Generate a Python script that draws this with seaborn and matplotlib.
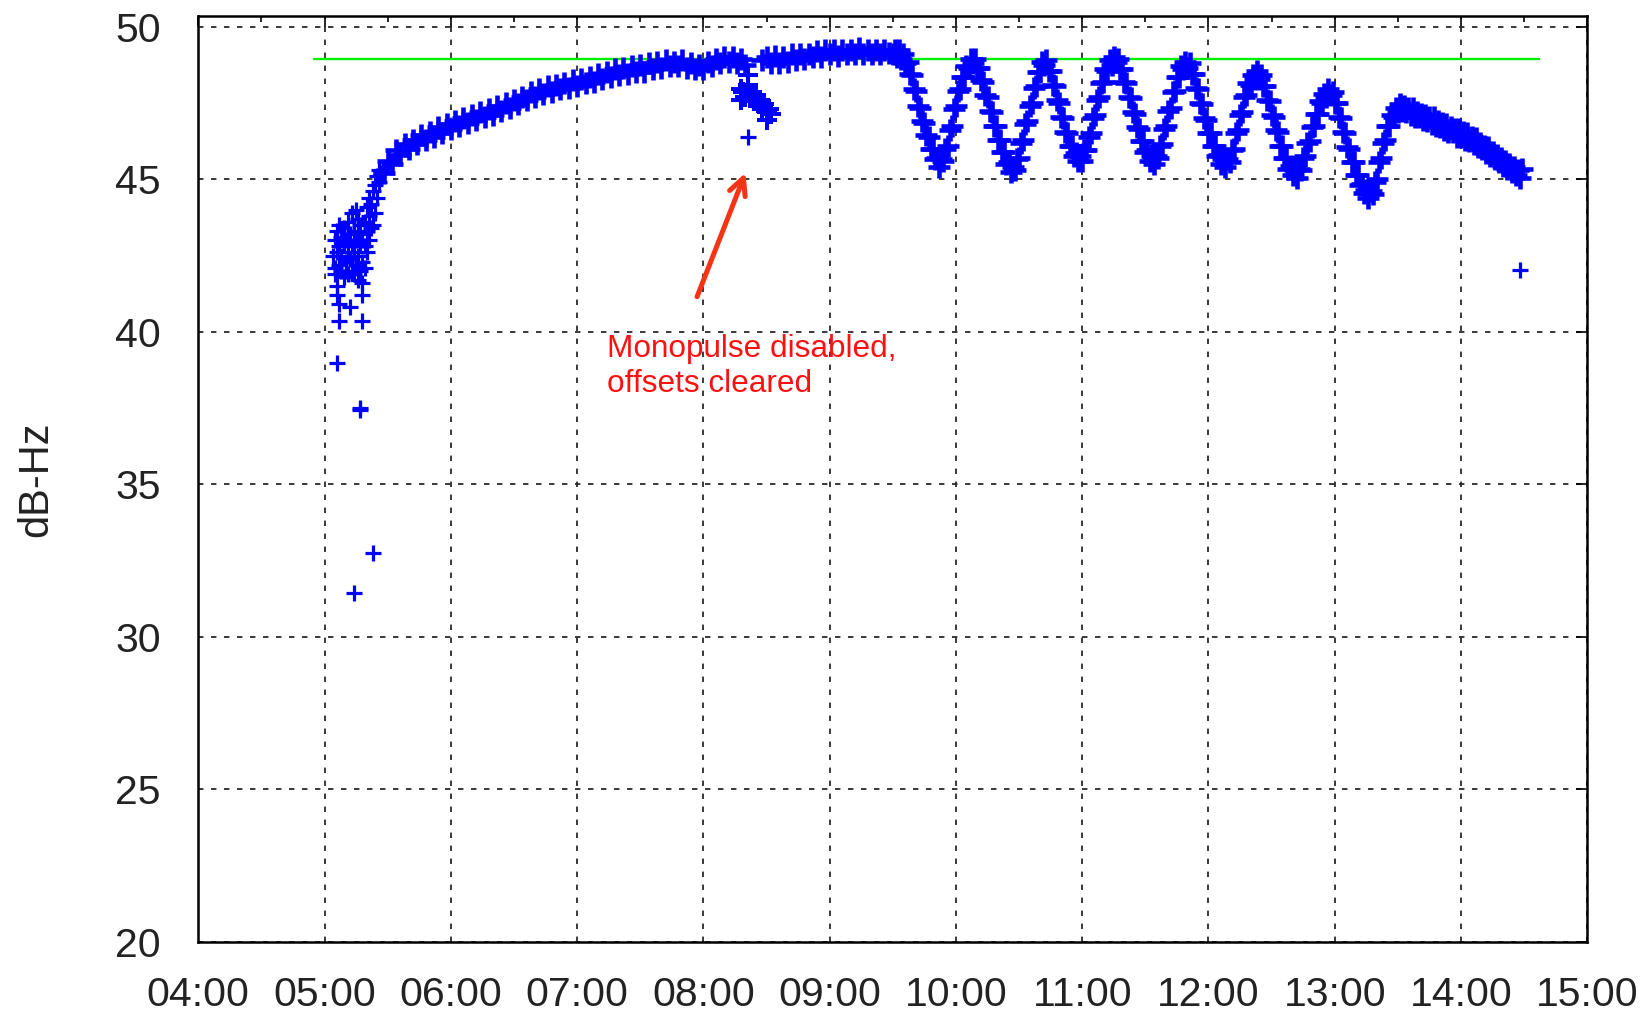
import numpy as np
import pandas as pd
import matplotlib
matplotlib.use("Agg")
import matplotlib.pyplot as plt
import matplotlib.dates as mdates
import seaborn as sns

DAY = "2000-01-01 "

# ---------------- data ----------------
# early acquisition cluster (individual readings)
cluster_times = ["05:04",
                 "05:05", "05:05", "05:05",
                 "05:06", "05:06", "05:06", "05:06",
                 "05:07", "05:07", "05:07", "05:07",
                 "05:08", "05:08", "05:08",
                 "05:09", "05:09", "05:09",
                 "05:10", "05:10", "05:10",
                 "05:11", "05:11", "05:11",
                 "05:12", "05:12", "05:12",
                 "05:13", "05:13", "05:13",
                 "05:14", "05:14", "05:14",
                 "05:15", "05:15", "05:15",
                 "05:16", "05:16", "05:16", "05:16",
                 "05:17", "05:17", "05:17",
                 "05:18", "05:18", "05:18", "05:18",
                 "05:19", "05:19", "05:19",
                 "05:20", "05:20", "05:20",
                 "05:21", "05:21", "05:21",
                 "05:22", "05:22",
                 "05:23", "05:23",
                 "05:24", "05:24",
                 "05:25", "05:25",
                 "05:26", "05:26",
                 "05:27"]
cluster_snr = [42.5,
               42.1, 43.0, 41.9,
               41.5, 41.2, 42.6, 43.3,
               40.9, 42.2, 43.5, 42.8,
               42.0, 43.1, 42.5,
               41.8, 42.9, 43.4,
               42.3, 43.0, 42.0,
               42.6, 43.6, 41.9,
               40.8, 42.4, 43.2,
               42.0, 42.8, 43.9,
               41.9, 42.6, 43.3,
               42.2, 43.0, 44.0,
               41.7, 42.5, 43.7, 43.2,
               42.0, 42.9, 43.5,
               41.2, 41.6, 42.3, 43.0,
               42.1, 42.8, 43.6,
               42.6, 43.3, 44.1,
               43.0, 43.8, 44.4,
               43.4, 44.2,
               43.5, 44.6,
               43.9, 44.8,
               44.4, 45.1,
               44.9, 45.3,
               45.2]

# rise, one reading every 2 minutes from 05:28 to 08:20
rise_start = "05:28"
rise_snr = [45.2, 45.6, 45.5, 45.95, 45.8, 46.15, 46.0, 46.3, 46.15, 46.45,
            46.3, 46.55, 46.4, 46.7, 46.5, 46.8, 46.65, 46.9, 46.75, 47.0,
            46.85, 47.1, 46.95, 47.2, 47.05, 47.3, 47.1, 47.4, 47.25, 47.5,
            47.35, 47.6, 47.45, 47.7, 47.6, 47.85, 47.7, 47.95, 47.8, 48.05,
            47.85, 48.1, 47.95, 48.15, 48.0, 48.25, 48.05, 48.3, 48.15, 48.35,
            48.2, 48.45, 48.3, 48.5, 48.35, 48.6, 48.4, 48.65, 48.45, 48.7,
            48.5, 48.75, 48.5, 48.8, 48.6, 48.85, 48.65, 48.9, 48.7, 48.85,
            48.7, 48.9, 48.65, 48.8, 48.6, 48.75, 48.6, 48.85, 48.7, 48.95,
            48.8, 49.0, 48.85, 49.0, 48.8, 48.95, 48.75]

# drop after monopulse disabled
dip_times = ["08:21", "08:21", "08:18", "08:18", "08:19", "08:20", "08:21",
             "08:22", "08:23", "08:24", "08:25", "08:26", "08:27", "08:28",
             "08:29", "08:30", "08:30", "08:31", "08:32"]
dip_snr = [48.4, 48.1, 47.95, 47.6, 47.85, 47.7, 47.95,
           47.65, 47.8, 47.55, 47.75, 47.5, 47.6, 47.35,
           47.45, 47.2, 46.95, 47.3, 47.15]

# plateau, one reading every 2 minutes from 08:28 to 09:28
plateau_start = "08:28"
plateau_snr = [48.9, 49.0, 48.8, 49.05, 48.8, 49.0, 48.85, 49.1, 48.9, 49.1,
               48.95, 49.1, 49.0, 49.2, 49.0, 49.25, 49.1, 49.25, 49.05, 49.25,
               49.1, 49.25, 49.1, 49.3, 49.1, 49.25, 49.1, 49.25, 49.1, 49.25,
               49.15]

# oscillating part, one reading per minute from 09:30 to 14:29
osc_start = "09:30"
osc_snr = [49.1, 49.25, 49.0, 49.25, 48.95, 49.1, 48.8, 48.85, 48.45, 48.4,
           47.95, 47.9, 47.4, 47.35, 46.9, 46.85, 46.45, 46.4, 46.0, 46.0,
           45.65, 45.7, 45.4, 45.65, 45.6, 46.0, 46.1, 46.6, 46.75, 47.3,
           47.4, 47.9, 47.95, 48.35, 48.35, 48.7, 48.65, 48.95, 48.8, 48.95,
           48.65, 48.65, 48.25, 48.2, 47.75, 47.7, 47.25, 47.2, 46.75, 46.75,
           46.3, 46.3, 45.9, 45.9, 45.5, 45.55, 45.25, 45.4, 45.3, 45.65,
           45.7, 46.2, 46.3, 46.8, 46.9, 47.4, 47.5, 48.0, 48.05, 48.5,
           48.5, 48.85, 48.75, 48.9, 48.55, 48.55, 48.1, 48.05, 47.6, 47.5,
           47.05, 47.0, 46.55, 46.5, 46.1, 46.1, 45.75, 45.85, 45.6, 45.75,
           45.6, 45.95, 45.95, 46.4, 46.5, 47.0, 47.1, 47.6, 47.7, 48.15,
           48.2, 48.6, 48.55, 48.9, 48.75, 49.0, 48.85, 48.95, 48.6, 48.6,
           48.2, 48.15, 47.7, 47.65, 47.2, 47.15, 46.7, 46.65, 46.25, 46.25,
           45.9, 45.95, 45.6, 45.75, 45.5, 45.75, 45.7, 46.1, 46.15, 46.65,
           46.75, 47.25, 47.35, 47.85, 47.9, 48.35, 48.35, 48.7, 48.6, 48.85,
           48.65, 48.8, 48.45, 48.45, 48.0, 47.95, 47.5, 47.45, 47.0, 46.95,
           46.5, 46.5, 46.1, 46.1, 45.75, 45.8, 45.5, 45.65, 45.4, 45.65,
           45.55, 45.95, 46.0, 46.5, 46.6, 47.1, 47.2, 47.7, 47.75, 48.15,
           48.1, 48.4, 48.3, 48.55, 48.3, 48.4, 48.05, 48.05, 47.6, 47.55,
           47.1, 47.05, 46.6, 46.55, 46.1, 46.1, 45.7, 45.7, 45.35, 45.45,
           45.15, 45.3, 45.05, 45.35, 45.3, 45.7, 45.75, 46.2, 46.25, 46.7,
           46.75, 47.15, 47.15, 47.55, 47.5, 47.8, 47.7, 47.95, 47.75, 47.85,
           47.5, 47.5, 47.05, 47.0, 46.55, 46.5, 46.05, 46.0, 45.55, 45.55,
           45.15, 45.15, 44.8, 44.85, 44.55, 44.65, 44.4, 44.6, 44.5, 44.9,
           45.0, 45.55, 45.7, 46.2, 46.3, 46.75, 46.75, 47.1, 47.05, 47.35,
           47.2, 47.45, 47.25, 47.4, 47.2, 47.35, 47.1, 47.35, 47.05, 47.2,
           47.05, 47.15, 46.95, 47.1, 46.9, 47.05, 46.8, 47.05, 46.75, 46.9,
           46.7, 46.85, 46.6, 46.8, 46.55, 46.7, 46.55, 46.65, 46.4, 46.65,
           46.4, 46.55, 46.3, 46.5, 46.25, 46.4, 46.15, 46.35, 46.05, 46.2,
           46.0, 46.1, 45.85, 46.05, 45.75, 45.9, 45.65, 45.8, 45.55, 45.7,
           45.45, 45.6, 45.35, 45.5, 45.25, 45.4, 45.15, 45.3, 45.05, 45.35]

# isolated outliers
outlier_times = ["05:06", "05:07", "05:14", "05:17", "05:17", "05:18", "05:23",
                 "08:21", "14:28"]
outlier_snr = [38.97, 40.36, 31.43, 37.44, 37.5, 40.36, 32.74, 46.39, 42.03]

# green reference level
ref_times = ["04:55", "14:37"]
ref_level = [48.93, 48.93]

y_ticks = [20, 25, 30, 35, 40, 45, 50]

note_text = "Monopulse disabled,\noffsets cleared"
note_pos = ("07:14", 39.92)
arrow_tail = ("07:57", 41.15)
arrow_head = ("08:20", 45.21)


# ---------------- helpers ----------------
def ts(hhmm):
    return pd.to_datetime([DAY + t for t in hhmm])


def run(start, step_min, values):
    return pd.date_range(DAY + start, periods=len(values), freq=f"{step_min}min")


def num(hhmm):
    return mdates.date2num(pd.Timestamp(DAY + hhmm))


dense_df = pd.concat([
    pd.DataFrame({"time": run(rise_start, 2, rise_snr), "snr": rise_snr}),
    pd.DataFrame({"time": run(plateau_start, 2, plateau_snr), "snr": plateau_snr}),
    pd.DataFrame({"time": run(osc_start, 1, osc_snr), "snr": osc_snr}),
], ignore_index=True)
dip_df = pd.DataFrame({"time": ts(dip_times), "snr": dip_snr})
sparse_df = pd.concat([
    pd.DataFrame({"time": ts(cluster_times), "snr": cluster_snr}),
    pd.DataFrame({"time": ts(outlier_times), "snr": outlier_snr}),
], ignore_index=True)

ref_df = pd.DataFrame({"time": ts(ref_times), "level": ref_level})

# ---------------- plotting ----------------
sns.set_theme(style="white")
plt.rcParams["font.family"] = ["Liberation Sans", "DejaVu Sans"]

W, H = 1650, 1015
fig = plt.figure(figsize=(W / 100, H / 100), dpi=100)
fig.patch.set_facecolor("white")
L, R, T, B = 198.3, 1587.3, 16.0, 942.0
ax = fig.add_axes([L / W, 1 - B / H, (R - L) / W, (B - T) / H])
ax.set_facecolor("white")

sns.lineplot(data=ref_df, x="time", y="level", color="#00ee00", linewidth=1.7,
             ax=ax, zorder=2, legend=False)
sns.scatterplot(data=dense_df, x="time", y="snr", marker="+", s=270,
                color="#0000ff", linewidth=3.3, ax=ax, zorder=3, legend=False)
sns.scatterplot(data=dip_df, x="time", y="snr", marker="+", s=200,
                color="#0000ff", linewidth=2.9, ax=ax, zorder=3, legend=False)
sns.scatterplot(data=sparse_df, x="time", y="snr", marker="+", s=140,
                color="#0000ff", linewidth=2.3, ax=ax, zorder=3, legend=False)

ax.set_xlim(num("04:00"), num("15:00"))
ax.set_ylim(20, 50.35)
ax.xaxis.set_major_locator(mdates.HourLocator())
ax.xaxis.set_minor_locator(mdates.MinuteLocator(byminute=[30]))
ax.xaxis.set_major_formatter(mdates.DateFormatter("%H:%M"))
ax.set_yticks(y_ticks)

ax.grid(True, which="major", color="#2a2a2a", linewidth=1.3,
        linestyle=(0, (3.0, 4.2)), zorder=1)
ax.set_axisbelow(True)

for sp in ax.spines.values():
    sp.set_visible(True)
    sp.set_color("black")
    sp.set_linewidth(1.8)
    sp.set_zorder(5)

ax.tick_params(which="both", direction="in", top=True, right=True,
               color="black", width=1.2)
ax.tick_params(which="major", length=8)
ax.tick_params(which="minor", length=4)
ax.tick_params(axis="x", which="major", labelsize=29.5, pad=24.5,
               labelcolor="#222222")
ax.tick_params(axis="y", which="major", labelsize=29.5, pad=27,
               labelcolor="#222222")

ax.set_xlabel("")
ax.set_ylabel("dB-Hz", fontsize=30, color="#222222")
ax.yaxis.set_label_coords(-0.102, 0.5)

ax.text(num(note_pos[0]), note_pos[1], note_text, color="#ff1010",
        fontsize=22.7, ha="left", va="top", linespacing=1.2, zorder=6)
ax.annotate("", xy=(num(arrow_head[0]), arrow_head[1]),
            xytext=(num(arrow_tail[0]), arrow_tail[1]),
            arrowprops=dict(arrowstyle="->", color="#f43414", lw=3.6,
                            mutation_scale=30, shrinkA=0, shrinkB=0),
            zorder=6)

fig.savefig("out.png", dpi=100, facecolor="white")
